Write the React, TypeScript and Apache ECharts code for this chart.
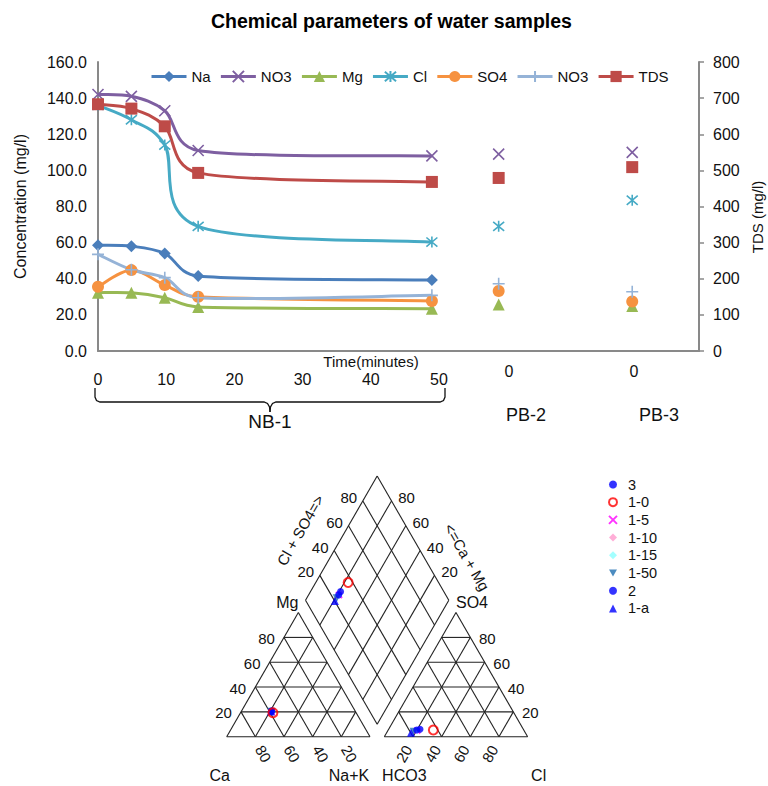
import React, { useEffect, useRef } from "react";
import * as echarts from "echarts";

const FONT = '"Liberation Sans", Arial, Helvetica, sans-serif';
const NARROW = '"Liberation Sans Narrow", "Arial Narrow", "Liberation Sans", Arial, sans-serif';

// ---------- Time series: NB-1 sampled over time, PB-2 / PB-3 single samples ----------
const nbTimes = [0, 5, 10, 15, 50];
const pbSlots = [60, 80];
const nbTickLabels = ["0", "10", "20", "30", "40", "50"];
const pbTickLabels = ["0", "0"];
const siteLabels = ["NB-1", "PB-2", "PB-3"];

const naNB = [58.5, 58.0, 54.0, 41.5, 39.3];
const naPB: number[] = [];
const no3NB = [142.0, 141.0, 133.0, 111.0, 108.0];
const no3PB = [109.0, 110.0];
const mgNB = [32.3, 32.2, 29.5, 24.4, 23.4];
const mgPB = [25.8, 24.9];
const clNB = [136.0, 128.0, 114.0, 69.0, 60.3];
const clPB = [69.0, 83.5];
const so4NB = [35.6, 44.8, 36.5, 30.0, 27.7];
const so4PB = [33.2, 27.4];
const no3bNB = [53.5, 45.0, 40.6, 29.5, 30.8];
const no3bPB = [37.2, 32.8];
const tdsNB = [683, 671, 622, 493, 468];
const tdsPB = [479, 509];

// ---------- Piper diagram: meq % per sample ----------
const pSamples = ["3", "1-0", "1-5", "1-10", "1-15", "1-50", "2", "1-a"];
const pCa = [58.6, 58.1, 58.5, 58.4, 58.6, 58.8, 58.2, 58.9];
const pMg = [20.4, 19.3, 20.2, 20.4, 20.1, 20.2, 20.8, 20.3];
const pNaK = [21.0, 22.6, 21.3, 21.2, 21.3, 21.0, 21.0, 20.8];
const pHCO3 = [74.7, 63.1, 74.5, 73.4, 74.6, 77.5, 72.1, 79.8];
const pSO4 = [5.4, 5.4, 5.0, 5.6, 5.2, 4.0, 6.0, 3.2];
const pCl = [19.9, 31.5, 20.5, 21.0, 20.2, 18.5, 21.9, 17.0];
const gridTicks = [20, 40, 60, 80];

const X_PATH = "path://M0,0L10,10M10,0L0,10";
const STAR_PATH = "path://M0,0L10,10M10,0L0,10M5,-1L5,11";
const PLUS_PATH = "path://M5,0L5,10M0,5L10,5";
const DOWN_TRIANGLE = "path://M0,0L10,0L5,8.66Z";

type Def = {
  key: string; label: string; nb: number[]; pb: number[]; color: string;
  symbol: string; size: number; axis: number; open: boolean;
};

const defs: Def[] = [
  { key: "Na", label: "Na", nb: naNB, pb: naPB, color: "#4A7EBB", symbol: "diamond", size: 12, axis: 0, open: false },
  { key: "NO3", label: "NO3", nb: no3NB, pb: no3PB, color: "#7E5FA1", symbol: X_PATH, size: 11, axis: 0, open: true },
  { key: "Mg", label: "Mg", nb: mgNB, pb: mgPB, color: "#98B954", symbol: "triangle", size: 12, axis: 0, open: false },
  { key: "Cl", label: "Cl", nb: clNB, pb: clPB, color: "#46AAC5", symbol: STAR_PATH, size: 11, axis: 0, open: true },
  { key: "SO4", label: "SO4", nb: so4NB, pb: so4PB, color: "#F69240", symbol: "circle", size: 12, axis: 0, open: false },
  { key: "NO3-b", label: "NO3", nb: no3bNB, pb: no3bPB, color: "#95B3D7", symbol: PLUS_PATH, size: 12, axis: 0, open: true },
  { key: "TDS", label: "TDS", nb: tdsNB, pb: tdsPB, color: "#BE4B48", symbol: "rect", size: 12, axis: 1, open: false },
];

// Bezier segments with neighbour-based control points (spreadsheet style smoothing)
function splineRenderer(points: number[][], color: string) {
  return (params: any, api: any) => {
    const i = params.dataIndex;
    const n = points.length;
    if (i >= n - 1) return null;
    const P = points.map((p) => api.coord(p));
    const p0 = P[Math.max(i - 1, 0)];
    const p1 = P[i];
    const p2 = P[i + 1];
    const p3 = P[Math.min(i + 2, n - 1)];
    const d = (a: number[], b: number[]) => Math.hypot(a[0] - b[0], a[1] - b[1]);
    const d12 = d(p1, p2);
    const d02 = d(p0, p2);
    const d13 = d(p1, p3);
    let f0 = 1 / 6;
    let f1 = 1 / 6;
    if (d02 > 0 && d02 / 6 >= d12 / 2) f0 = d12 / d02 / 2;
    if (d13 > 0 && d13 / 6 >= d12 / 2) f1 = d12 / d13 / 2;
    return {
      type: "bezierCurve",
      shape: {
        x1: p1[0], y1: p1[1], x2: p2[0], y2: p2[1],
        cpx1: p1[0] + f0 * (p2[0] - p0[0]), cpy1: p1[1] + f0 * (p2[1] - p0[1]),
        cpx2: p2[0] - f1 * (p3[0] - p1[0]), cpy2: p2[1] - f1 * (p3[1] - p1[1]),
      },
      style: { stroke: color, lineWidth: 3, fill: "none" },
    };
  };
}

// ---------- Piper geometry (unit triangles, gap G between them) ----------
const G = 0.1;
const H = Math.sqrt(3) / 2;
const P_LEFT = 226.7;
const P_BASE = 736.7;
const P_SCALE = 143.3;
const P_XMAX = 2 + G;
const P_YMAX = H * (2 + G);
const toPx = (u: number[]) => [P_LEFT + u[0] * P_SCALE, P_BASE - u[1] * P_SCALE];

const cationXY = (ca: number, mg: number, nak: number) => {
  const s = ca + mg + nak;
  return [(nak + mg / 2) / s, (mg / s) * H];
};
const anionXY = (hco3: number, so4: number, cl: number) => {
  const s = hco3 + so4 + cl;
  return [1 + G + (cl + so4 / 2) / s, (so4 / s) * H];
};
const diamondXY = (c: number[], a: number[]) => {
  const t = a[0] - c[0] + (a[1] - c[1]) / (2 * H);
  return [c[0] + 0.5 * t, c[1] + H * t];
};
const B0 = [1 + G / 2, G * H];
const U1 = [0.5, H];
const U2 = [-0.5, H];
const dPt = (a: number, b: number) => [B0[0] + a * U1[0] + b * U2[0], B0[1] + a * U1[1] + b * U2[1]];

function piperSegments() {
  const segs: number[][] = [];
  const tri = (ox: number) => {
    segs.push([ox, 0, ox + 1, 0], [ox, 0, ox + 0.5, H], [ox + 1, 0, ox + 0.5, H]);
    gridTicks.forEach((t) => {
      const k = t / 100;
      segs.push([ox + k / 2, k * H, ox + 1 - k / 2, k * H]);
      segs.push([ox + k, 0, ox + k + (1 - k) / 2, (1 - k) * H]);
      segs.push([ox + 1 - k, 0, ox + (1 - k) / 2, (1 - k) * H]);
    });
  };
  tri(0);
  tri(1 + G);
  [0, 0.2, 0.4, 0.6, 0.8, 1].forEach((k) => {
    const a1 = dPt(k, 0), a2 = dPt(k, 1);
    const b1 = dPt(0, k), b2 = dPt(1, k);
    segs.push([a1[0], a1[1], a2[0], a2[1]], [b1[0], b1[1], b2[0], b2[1]]);
  });
  return segs;
}

const sampleStyle: Record<string, any> = {
  "3": { symbol: "circle", size: 7, itemStyle: { color: "#0000FF" } },
  "1-0": { symbol: "circle", size: 9, itemStyle: { color: "rgba(255,0,0,0)", borderColor: "#FF0000", borderWidth: 2 } },
  "1-5": { symbol: X_PATH, size: 6, itemStyle: { color: "rgba(0,0,0,0)", borderColor: "#FF00FF", borderWidth: 2 } },
  "1-10": { symbol: "diamond", size: 7, itemStyle: { color: "#FF9ACD" } },
  "1-15": { symbol: "diamond", size: 7, itemStyle: { color: "#8CFFFF" } },
  "1-50": { symbol: DOWN_TRIANGLE, size: 8, itemStyle: { color: "#1F6FB0" } },
  "2": { symbol: "circle", size: 7, itemStyle: { color: "#0000FF" } },
  "1-a": { symbol: "triangle", size: 8, itemStyle: { color: "#0000FF" } },
};
// draw order: hidden samples first, the open red ring last
const drawOrder = ["1-5", "1-10", "1-15", "1-50", "3", "2", "1-a", "1-0"];

function buildOption() {
  const series: any[] = [];
  defs.forEach((d) => {
    const nbPts = d.nb.map((v, i) => [nbTimes[i], v]);
    const pbPts = d.pb.map((v, i) => [pbSlots[i], v]);
    series.push({
      type: "line", name: d.key, xAxisIndex: 0, yAxisIndex: d.axis,
      data: [...nbPts, ...pbPts], symbol: d.symbol, symbolSize: d.size, showSymbol: true,
      lineStyle: { width: 3, color: d.color, opacity: 0 },
      itemStyle: d.open
        ? { color: "rgba(0,0,0,0)", borderColor: d.color, borderWidth: 1.6 }
        : { color: d.color, borderWidth: 0 },
      z: 4, silent: true,
    });
    series.push({
      type: "custom", name: d.key, xAxisIndex: 0, yAxisIndex: d.axis,
      data: nbPts, encode: { x: 0, y: 1 },
      renderItem: splineRenderer(nbPts, d.color), z: 2, silent: true,
    });
  });

  series.push({
    type: "custom", name: "piper-frame", xAxisIndex: 1, yAxisIndex: 2,
    data: piperSegments(), encode: { x: [0, 2], y: [1, 3] }, silent: true, z: 1,
    renderItem: (params: any, api: any) => {
      const a = api.coord([api.value(0), api.value(1)]);
      const b = api.coord([api.value(2), api.value(3)]);
      return { type: "line", shape: { x1: a[0], y1: a[1], x2: b[0], y2: b[1] }, style: { stroke: "#222", lineWidth: 1.1 } };
    },
  });

  drawOrder.forEach((name) => {
    const i = pSamples.indexOf(name);
    const c = cationXY(pCa[i], pMg[i], pNaK[i]);
    const a = anionXY(pHCO3[i], pSO4[i], pCl[i]);
    const st = sampleStyle[name];
    series.push({
      type: "scatter", name, xAxisIndex: 1, yAxisIndex: 2,
      data: [c, a, diamondXY(c, a)], symbol: st.symbol, symbolSize: st.size,
      itemStyle: st.itemStyle, z: 5, silent: true,
    });
  });

  const labelOf: Record<string, string> = {};
  defs.forEach((d) => (labelOf[d.key] = d.label));

  const graphics: any[] = [];
  const txt = (x: number, y: number, text: string, fontSize: number, rotation = 0, family = FONT) =>
    graphics.push({
      type: "text", x, y, rotation, silent: true,
      style: { text, fontSize, fontFamily: family, fill: "#111", align: "center", verticalAlign: "middle" },
    });

  // x annotations beneath the time-series plot
  txt(371, 361, "Time(minutes)", 15);
  nbTickLabels.forEach((t, i) => txt(98 + i * 68.2, 379, t, 16, 0, NARROW));
  txt(509, 371, pbTickLabels[0], 16);
  txt(634, 371, pbTickLabels[1], 16);
  txt(270, 421, siteLabels[0], 19);
  txt(526, 415, siteLabels[1], 18);
  txt(659, 415, siteLabels[2], 18);
  const brace = { stroke: "#111", lineWidth: 1.3, fill: "none" };
  graphics.push({
    type: "polyline", silent: true, style: brace,
    shape: { points: [[95, 388], [95, 397], [96.5, 400.5], [100, 402], [264, 402], [267.5, 403.5], [269.5, 407], [270, 412]] },
  });
  graphics.push({
    type: "polyline", silent: true, style: brace,
    shape: { points: [[270, 412], [270.5, 407], [272.5, 403.5], [276, 402], [440, 402], [443.5, 400.5], [445, 397], [445, 388]] },
  });
  // right axis title, set a little below the axis midpoint
  txt(757, 217, "TDS (mg/l)", 15, Math.PI / 2);

  // Piper tick labels and axis names
  gridTicks.forEach((t) => {
    const k = t / 100;
    let p = toPx(dPt(k, 1));
    txt(p[0] - 14, p[1] - 3.5, String(t), 15);
    p = toPx(dPt(1, k));
    txt(p[0] + 15, p[1] - 3.5, String(t), 15);
    p = toPx([k / 2, k * H]);
    txt(p[0] - 17.5, p[1] + 1, String(t), 15);
    p = toPx([1 - k, 0]);
    txt(p[0] + 8, p[1] + 17, String(t), 15, -Math.PI / 3);
    p = toPx([1 + G + 1 - k / 2, k * H]);
    txt(p[0] + 17, p[1] + 1, String(t), 15);
    p = toPx([1 + G + k, 0]);
    txt(p[0] - 9, p[1] + 17, String(t), 15, Math.PI / 3);
  });
  let q = toPx([0.5, H]);
  txt(q[0] - 11, q[1] - 10, "Mg", 16);
  q = toPx([1.5 + G, H]);
  txt(q[0] + 16, q[1] - 10, "SO4", 16);
  q = toPx([0, 0]);
  txt(q[0] - 7, q[1] + 39, "Ca", 16);
  q = toPx([1, 0]);
  txt(q[0] - 21, q[1] + 39, "Na+K", 16);
  q = toPx([1 + G, 0]);
  txt(q[0] + 20, q[1] + 39, "HCO3", 16);
  q = toPx([2 + G, 0]);
  txt(q[0] + 11, q[1] + 39, "Cl", 16);
  q = toPx(dPt(0.5, 1));
  txt(q[0] - 41, q[1] - 8, "Cl + SO4=>", 15, Math.PI / 3);
  q = toPx(dPt(1, 0.5));
  txt(q[0] + 54, q[1] + 19, "<=Ca + Mg", 15, -Math.PI / 3);

  const axisGray = { color: "#898989", width: 2 };

  return {
    animation: false,
    backgroundColor: "#ffffff",
    title: {
      text: "Chemical parameters of water samples", left: 206, top: 6,
      textStyle: { fontSize: 19.5, fontWeight: "bold", color: "#000", fontFamily: FONT },
    },
    legend: [
      {
        data: defs.map((d) => d.key), left: 145, top: 64, itemWidth: 35, itemHeight: 14, itemGap: 8.7,
        selectedMode: false, formatter: (n: string) => labelOf[n] || n,
        textStyle: { fontSize: 15, color: "#111", fontFamily: FONT },
        lineStyle: { opacity: 1, width: 3 },
      },
      {
        data: pSamples, orient: "vertical", left: 603, top: 472, itemWidth: 8, itemHeight: 8, itemGap: 2.7,
        selectedMode: false, textStyle: { fontSize: 14.5, color: "#111", fontFamily: FONT, padding: [0, 0, 0, 6] },
      },
    ],
    grid: [
      { left: 98, top: 62, width: 601, height: 289 },
      { left: P_LEFT, top: P_BASE - P_YMAX * P_SCALE, width: P_XMAX * P_SCALE, height: P_YMAX * P_SCALE },
    ],
    xAxis: [
      {
        type: "value", gridIndex: 0, min: 0, max: 90,
        axisLine: { show: true, lineStyle: axisGray }, axisTick: { show: false },
        axisLabel: { show: false }, splitLine: { show: false },
      },
      { type: "value", gridIndex: 1, min: 0, max: P_XMAX, show: false },
    ],
    yAxis: [
      {
        type: "value", gridIndex: 0, min: 0, max: 160, interval: 20, position: "left",
        axisLine: { show: true, lineStyle: axisGray }, axisTick: { show: false }, splitLine: { show: false },
        axisLabel: { formatter: (v: number) => v.toFixed(1), fontSize: 16, color: "#111", margin: 11, fontFamily: FONT },
        name: "Concentration (mg/l)", nameLocation: "middle", nameGap: 70,
        nameTextStyle: { fontSize: 16, color: "#111", fontFamily: FONT },
      },
      {
        type: "value", gridIndex: 0, min: 0, max: 800, interval: 100, position: "right",
        axisLine: { show: true, lineStyle: axisGray },
        axisTick: { show: true, length: 5, lineStyle: { color: "#898989", width: 1.5 } },
        splitLine: { show: false },
        axisLabel: { fontSize: 16, color: "#111", margin: 14, fontFamily: FONT },
      },
      { type: "value", gridIndex: 1, min: 0, max: P_YMAX, show: false },
    ],
    series,
    graphic: graphics,
  };
}

export default function App() {
  const ref = useRef<HTMLDivElement>(null);
  useEffect(() => {
    if (!ref.current) return;
    const chart = echarts.init(ref.current, undefined, { renderer: "svg" });
    chart.setOption(buildOption() as any);
    return () => chart.dispose();
  }, []);
  return <div ref={ref} style={{ position: "absolute", left: 0, top: 0, width: 768, height: 786, background: "#fff" }} />;
}
